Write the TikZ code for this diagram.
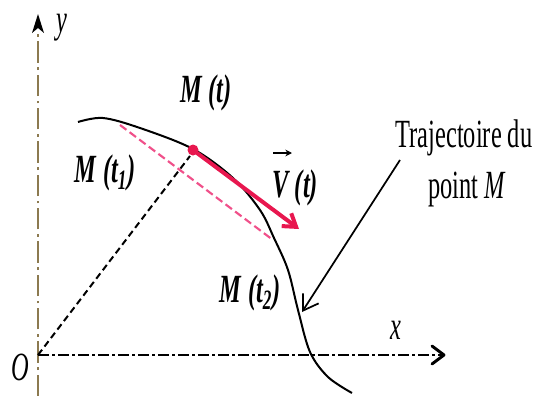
\documentclass[tikz,border=0pt]{standalone}
\usepackage{fontspec}
\setmainfont{Liberation Serif}[FakeStretch=0.61]
\usetikzlibrary{arrows.meta}
\definecolor{axisbrown}{HTML}{8C7A50}
\definecolor{vecred}{HTML}{E8174F}
\definecolor{dashpink}{HTML}{F0508A}
\begin{document}
\begin{tikzpicture}[x=0.75pt,y=-0.75pt,
  lab/.style={font=\fontsize{30}{32}\selectfont\itshape, inner sep=0pt},
  blab/.style={font=\fontsize{30}{32}\selectfont\bfseries\itshape, inner sep=0pt},
  txt/.style={font=\fontsize{30}{32}\selectfont, inner sep=0pt, anchor=base},
  yaxis/.style={axisbrown, line width=1.6pt, dash pattern=on 16pt off 3.5pt on 2pt off 3.5pt},
  xaxis/.style={black, line width=2pt, dash pattern=on 8pt off 2.5pt on 2pt off 2.5pt},
  traj/.style={black, line width=1.5pt},
]
\useasboundingbox (0,0) rectangle (533,396);

% points
\coordinate (O) at (38,355);
\coordinate (ytop) at (38,14);
\coordinate (yl) at (32,33);
\coordinate (yr) at (44,33);
\coordinate (yn) at (38,28);
\coordinate (yend) at (38,30);
\coordinate (ybot) at (38,396);
\coordinate (xend) at (444,355);
\coordinate (xl) at (432,346);
\coordinate (xr) at (432,364);
\coordinate (xstop) at (441,355);
\coordinate (Mt) at (193,150);
\coordinate (Mt1) at (120,125);
\coordinate (Mt2) at (273,240);
\coordinate (Vend) at (299,229);
\coordinate (rad) at (190,156);
\coordinate (ts) at (400,160);
\coordinate (te) at (302,312);
\coordinate (va1) at (273,153);
\coordinate (va2) at (292,153);

% axes
\draw[yaxis] (ybot) -- (O) -- (yend);
\fill[black] (ytop) -- (yl) -- (yn) -- (yr) -- cycle;
\draw[xaxis] (O) -- (xstop);
\draw[black, line width=2.2pt, line cap=round, line join=round] (xl) -- (xend) -- (xr);

% trajectory
\draw[traj] plot[smooth, tension=0.55] coordinates {(78,122) (103,118) (140,128) (193,149) (233,178) (260,210) (274,238) (288,270) (298,310) (310,352) (328,377) (352,393)};

% position vector
\draw[black, line width=1.5pt, dash pattern=on 5pt off 3pt] (O) -- (rad);
% secant
\draw[dashpink, line width=1.6pt, dash pattern=on 6pt off 3pt] (Mt1) -- (Mt2);
% velocity
\draw[vecred, line width=3pt, -{Straight Barb[length=9pt, width=12pt]}] (Mt) -- (Vend);
\fill[vecred] (Mt) circle (5.5);

% trajectory pointer
\draw[black, line width=1.3pt, -{Straight Barb[length=11pt, width=14pt]}] (ts) -- (te);

% labels
\node[lab, anchor=base] (ylab) at (62,32) {y};
\node[lab] (xlab) at (396,330) {x};
\node[lab] (olab) at (20,367) {O};
\node[blab] (lMt) at (206,93) {M\,(t)};
\node[blab] (lMt1) at (105,173) {M\,(t\textsubscript{1})};
\node[blab] (lMt2) at (250,293) {M\,(t\textsubscript{2})};
\node[blab] (lV) at (295,188) {V\,(t)};
\draw[black, line width=1.2pt, -{Stealth[length=5pt,width=5pt]}] (va1) -- (va2);
\node[txt] (tr1) at (464,147) {Trajectoire du};
\node[txt] (tr2) at (467,198) {point \textit{M}};
\end{tikzpicture}
\end{document}
